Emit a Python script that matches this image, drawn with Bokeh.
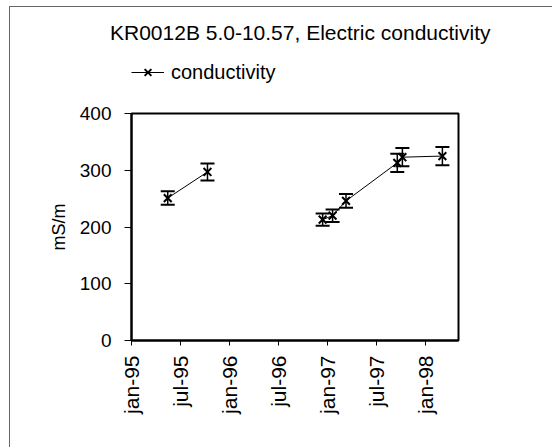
import math
import numpy as np
import pandas as pd
from bokeh.plotting import figure
from bokeh.layouts import column
from bokeh.models import (ColumnDataSource, Whisker, TeeHead, FixedTicker,
                          Legend, LegendItem, Range1d, Div)
from bokeh.embed import file_html
from bokeh.resources import INLINE

# ---- data ----
dates = ["1995-05-16", "1995-10-11", "1996-12-13", "1997-01-19", "1997-03-10",
         "1997-09-17", "1997-10-06", "1998-03-04"]
values = [251, 297, 213, 220, 246, 313, 323, 325]
errors = [12, 15, 11, 11, 12, 16, 16, 16]
gap_after = 1  # the line is broken between the 2nd and 3rd sample

tick_dates = ["1995-01-01", "1995-07-01", "1996-01-01", "1996-07-01",
              "1997-01-01", "1997-07-01", "1998-01-01"]
tick_labels = ["jan-95", "jul-95", "jan-96", "jul-96", "jan-97", "jul-97", "jan-98"]
y_ticks = [0, 100, 200, 300, 400]

title_text = "KR0012B 5.0-10.57, Electric conductivity"
series_name = "conductivity"
y_label = "mS/m"
x_start, x_end = "1995-01-01", "1998-05-03"


def ms(d):
    return pd.Timestamp(d).value / 1e6


xs = [ms(d) for d in dates]
vals = np.array(values, dtype=float)
errs = np.array(errors, dtype=float)

line_x = xs[:gap_after + 1] + [np.nan] + xs[gap_after + 1:]
line_y = list(vals[:gap_after + 1]) + [np.nan] + list(vals[gap_after + 1:])

src = ColumnDataSource(dict(x=xs, y=vals, lower=vals - errs, upper=vals + errs))
line_src = ColumnDataSource(dict(x=line_x, y=line_y))

FONT = "Liberation Sans"
BORDER = "1px solid #666666"

# ---- title row ----
title_div = Div(
    text=(f'<div style="font-family:\'{FONT}\';font-size:21px;line-height:24px;'
          f'color:black;white-space:nowrap;padding-left:100px;padding-top:14px;">'
          f'{title_text}</div>'),
    width=543, height=44, margin=(6, 0, 0, 9),
    styles={"border-top": BORDER, "border-left": BORDER})

# ---- legend row (own small figure so the legend is not clipped) ----
lf = figure(width=543, height=42, output_backend="svg", toolbar_location=None,
            x_range=Range1d(0, 1), y_range=Range1d(0, 1),
            x_axis_location=None, y_axis_location=None,
            min_border=0, margin=(0, 0, 0, 9))
lf.styles = {"border-left": BORDER}
lf.xgrid.visible = False
lf.ygrid.visible = False
lf.outline_line_color = None
lf.border_fill_color = "white"
lf.background_fill_color = "white"
lg_line = lf.line("x", "y", source=line_src, line_color="black", line_width=1)
lg_mark = lf.scatter("x", "y", source=src, marker="x", size=11,
                     line_color="black", line_width=2)
legend = Legend(items=[LegendItem(label=series_name, renderers=[lg_line, lg_mark])],
                location=(0, 8), glyph_width=33, glyph_height=24,
                padding=0, margin=0, label_standoff=7, spacing=0,
                border_line_color=None, background_fill_alpha=0,
                label_text_font=FONT, label_text_font_size="20px",
                label_text_color="black")
lf.add_layout(legend)

# ---- main chart ----
p = figure(width=543, height=355, x_axis_type="datetime",
           output_backend="svg", toolbar_location=None,
           x_range=Range1d(ms(x_start), ms(x_end)), y_range=Range1d(0, 400),
           min_border_left=121, min_border_right=95,
           min_border_top=21, min_border_bottom=107, margin=(0, 0, 0, 9))
p.styles = {"border-left": BORDER}

p.xgrid.visible = False
p.ygrid.visible = False
p.outline_line_color = "black"
p.outline_line_width = 2
p.background_fill_color = "white"
p.border_fill_color = "white"

tick_ms = [ms(d) for d in tick_dates]
p.xaxis.ticker = FixedTicker(ticks=tick_ms, minor_ticks=[])
p.xaxis.major_label_overrides = {t: l for t, l in zip(tick_ms, tick_labels)}
p.xaxis.major_label_orientation = math.pi / 2
p.yaxis.ticker = FixedTicker(ticks=y_ticks, minor_ticks=[])
p.yaxis.axis_label = y_label

for ax in (p.xaxis[0], p.yaxis[0]):
    ax.axis_line_color = "black"
    ax.axis_line_width = 2
    ax.major_tick_line_color = "black"
    ax.major_tick_line_width = 1
    ax.major_tick_in = 0
    ax.minor_tick_line_color = None
    ax.major_label_text_font = FONT
    ax.major_label_text_color = "black"
    ax.axis_label_text_font = FONT
    ax.axis_label_text_font_style = "normal"
    ax.axis_label_text_color = "black"

p.xaxis.major_tick_out = 5
p.xaxis.major_label_standoff = 10
p.xaxis.major_label_text_font_size = "21px"
p.yaxis.major_tick_out = 7
p.yaxis.major_label_standoff = 13
p.yaxis.major_label_text_font_size = "19px"
p.yaxis.axis_label_text_font_size = "18px"
p.yaxis.axis_label_standoff = 8

p.line("x", "y", source=line_src, line_color="black", line_width=1)
wh = Whisker(source=src, base="x", lower="lower", upper="upper",
             line_color="black", line_width=1.5,
             lower_head=TeeHead(size=14, line_color="black", line_width=2),
             upper_head=TeeHead(size=14, line_color="black", line_width=2))
p.add_layout(wh)
p.scatter("x", "y", source=src, marker="x", size=11,
          line_color="black", line_width=2)

layout = column(title_div, lf, p, spacing=0)
open("out.html", "w").write(file_html(layout, INLINE))
